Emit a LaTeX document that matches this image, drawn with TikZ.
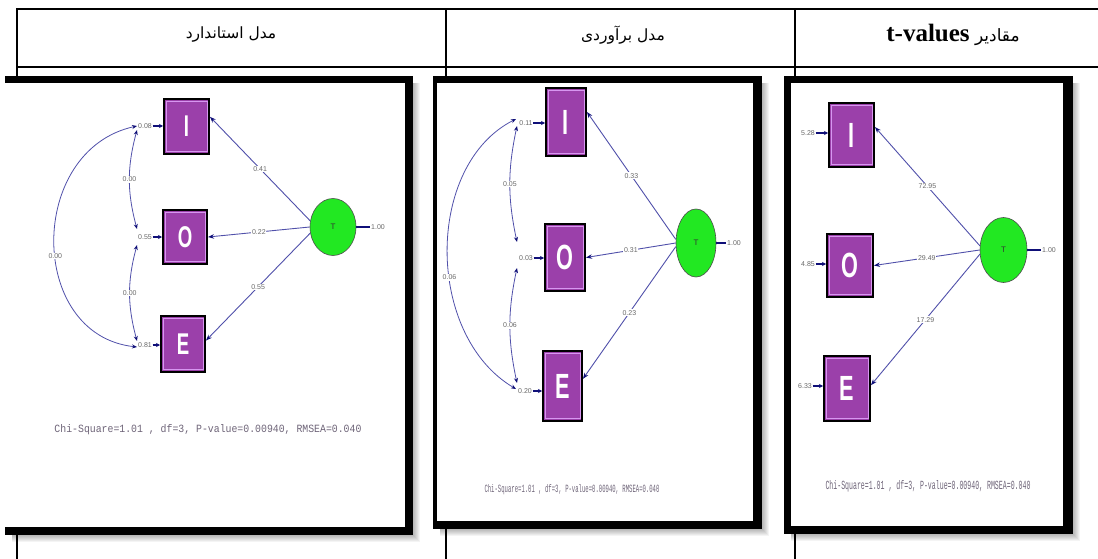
\documentclass[tikz,border=0pt]{standalone}
\usepackage{fontspec}
\setmainfont{Liberation Serif}
\newfontfamily\arabicfont[Script=Arabic]{DejaVu Sans}
\newfontfamily\lblfont{Liberation Sans}
\newfontfamily\chifont{Liberation Mono}
\TeXXeTstate=1
\usetikzlibrary{arrows.meta,shapes.geometric,calc}

\definecolor{boxpurple}{RGB}{155,64,170}
\definecolor{boxlav}{RGB}{215,150,240}
\definecolor{latgreen}{RGB}{34,232,34}
\definecolor{navy}{RGB}{15,15,120}
\definecolor{pathblue}{RGB}{80,80,170}
\definecolor{lblgray}{RGB}{105,105,105}
\definecolor{chigray}{RGB}{110,100,120}

\tikzset{
  tbl/.style={line width=1.4pt},
  obs/.style={rectangle, draw=black, line width=2pt, fill=boxpurple, text=white,
    inner sep=0pt, font=\lblfont\bfseries\fontsize{30}{30}\selectfont},
  obsbig/.style={obs, font=\lblfont\bfseries\fontsize{35}{35}\selectfont},
  lat/.style={ellipse, draw=black!70, line width=0.6pt, fill=latgreen, inner sep=0pt,
    font=\lblfont\fontsize{8}{8}\selectfont, text=black!80},
  load/.style={draw=pathblue, line width=0.9pt, -{Stealth[length=6pt,width=4.5pt,color=navy]}},
  lbl/.style={fill=white, inner sep=0.8pt, text=lblgray, font=\lblfont\fontsize{7}{7}\selectfont},
  errlbl/.style={inner sep=0.5pt, text=lblgray, font=\lblfont\fontsize{7}{7}\selectfont},
  err/.style={draw=navy, line width=1.5pt, -{Stealth[length=4pt,width=4pt]}},
  cov/.style={draw=pathblue, line width=0.8pt,
    {Stealth[length=5pt,width=4pt,color=navy]}-{Stealth[length=5pt,width=4pt,color=navy]}},
  varline/.style={draw=navy, line width=1.8pt},
  chi/.style={text=chigray, inner sep=0pt, font=\chifont},
  head/.style={inner sep=0pt, font=\arabicfont\fontsize{15.5}{16}\selectfont},
}

% narrow white letter inside an indicator box
\newcommand\ltr[1]{\scalebox{0.62}[1]{#1}}
% soft drop shadow to the right of and below a frame
\newcommand\pshadow[4]{%
  \foreach \k in {1,...,7}{\fill[black,opacity=0.045] (#1+7,#2+7) rectangle (#3+\k,#4+\k);}}
% thick black frame with a white interior
\newcommand\pframe[8]{%
  \fill[black] (#1,#2) rectangle (#3,#4);
  \fill[white] (#5,#6) rectangle (#7,#8);}
\newcommand\chiline{Chi-Square=1.01 , df=3, P-value=0.00940, RMSEA=0.040}

\begin{document}
\begin{tikzpicture}[x=1pt,y=-1pt]
\useasboundingbox (0,0) rectangle (1098,559);
\fill[white] (0,0) rectangle (1098,559);

% ---------- table ----------
\draw[tbl] (1098,9) -- (17,9) -- (17,559);
\draw[tbl] (17,67) -- (1098,67);
\draw[tbl] (446,9) -- (446,559);
\draw[tbl] (795,9) -- (795,559);

\node[head] (h1) at (231,35) {\beginR مدل استاندارد\endR};
\node[head] (h2) at (623,35) {\beginR مدل برآوردی\endR};
\node[head, font=\arabicfont\fontsize{17}{17}\selectfont] (h3) at (953,35)
  {\beginR مقادیر \beginL{\rmfamily\bfseries\fontsize{25}{25}\selectfont t-values}\endL\endR};

% ---------- frames ----------
\pshadow{5}{76}{413}{535}
\pshadow{433}{76}{762}{529}
\pshadow{784}{76}{1073}{534}
\pframe{5}{76}{413}{535}{5}{83}{405}{527}
\pframe{433}{76}{762}{529}{437}{83}{753}{521}
\pframe{784}{76}{1073}{534}{791}{83}{1063}{526}

% ---------- standardized model ----------
\node[obs, minimum width=45pt, minimum height=55pt] (I1) at (186.5,126.5) {\ltr{I}};
\node[obs, minimum width=44pt, minimum height=54pt] (O1) at (185,237) {\ltr{O}};
\node[obs, minimum width=44pt, minimum height=56pt] (E1) at (183,344) {\ltr{E}};
\node[lat, minimum width=46pt, minimum height=57pt] (T1) at (333,227) {T};

\draw[load] (T1.165) -- node[lbl]{0.41} ($(I1.north east)!0.33!(I1.south east)$);
\draw[load] (T1.180) -- node[lbl]{0.22} (O1.east);
\draw[load] (T1.195) -- node[lbl]{0.55} ($(E1.north east)!0.44!(E1.south east)$);

\node[errlbl] (t1v) at (378,227) {1.00};
\draw[varline] (T1.east) -- (t1v.west);

\node[errlbl] (e1I) at (145,126) {0.08};
\node[errlbl] (e1O) at (145,237) {0.55};
\node[errlbl] (e1E) at (145,345) {0.81};
\draw[err] (e1I.east) -- (e1I.east -| I1.west);
\draw[err] (e1O.east) -- (e1O.east -| O1.west);
\draw[err] (e1E.east) -- (e1E.east -| E1.west);

\coordinate (c1Ia) at (137,130);
\coordinate (c1Ib) at (137,126);
\coordinate (c1Oa) at (137,229);
\coordinate (c1Ob) at (137,245);
\coordinate (c1Ea) at (137,341);
\coordinate (c1Eb) at (137,347);
\draw[cov] (c1Ia) to[bend right=15] node[lbl]{0.00} (c1Oa);
\draw[cov] (c1Ob) to[bend right=15] node[lbl]{0.00} (c1Ea);
\draw[cov] (c1Ib) .. controls (27,150) and (27,335) .. node[lbl, pos=0.55]{0.00} (c1Eb);

\node[chi] (chi1) at (208,430) {\resizebox{307pt}{8pt}{\chiline}};

% ---------- estimated model ----------
\node[obsbig, minimum width=40pt, minimum height=68pt] (I2) at (566,122.5) {\ltr{I}};
\node[obsbig, minimum width=40pt, minimum height=67pt] (O2) at (565,257.5) {\ltr{O}};
\node[obsbig, minimum width=39pt, minimum height=70pt] (E2) at (562.5,386) {\ltr{E}};
\node[lat, minimum width=40pt, minimum height=68pt] (T2) at (696,243) {T};

\draw[load] (T2.170) -- node[lbl]{0.33} ($(I2.north east)!0.35!(I2.south east)$);
\draw[load] (T2.180) -- node[lbl]{0.31} (O2.east);
\draw[load] (T2.190) -- node[lbl]{0.23} ($(E2.north east)!0.4!(E2.south east)$);

\node[errlbl] (t2v) at (734,243) {1.00};
\draw[varline] (T2.east) -- (t2v.west);

\node[errlbl] (e2I) at (526,123) {0.11};
\node[errlbl] (e2O) at (526,258) {0.03};
\node[errlbl] (e2E) at (525,391) {0.20};
\draw[err] (e2I.east) -- (e2I.east -| I2.west);
\draw[err] (e2O.east) -- (e2O.east -| O2.west);
\draw[err] (e2E.east) -- (e2E.east -| E2.west);

\coordinate (c2Ia) at (517,126);
\coordinate (c2Ib) at (516,119);
\coordinate (c2Oa) at (517,242);
\coordinate (c2Ob) at (517,268);
\coordinate (c2Ea) at (517,383);
\coordinate (c2Eb) at (516,389);
\draw[cov] (c2Ia) to[bend right=12] node[lbl]{0.05} (c2Oa);
\draw[cov] (c2Ob) to[bend right=12] node[lbl]{0.06} (c2Ea);
\draw[cov] (c2Ib) .. controls (425,165) and (425,335) .. node[lbl, pos=0.58]{0.06} (c2Eb);

\node[chi] (chi2) at (572,490) {\resizebox{175pt}{8pt}{\chiline}};

% ---------- t-values ----------
\node[obsbig, minimum width=45pt, minimum height=64pt] (I3) at (851.5,135) {\ltr{I}};
\node[obsbig, minimum width=46pt, minimum height=63pt] (O3) at (850,265.5) {\ltr{O}};
\node[obsbig, minimum width=46pt, minimum height=65pt] (E3) at (847,388.5) {\ltr{E}};
\node[lat, minimum width=47pt, minimum height=65pt] (T3) at (1003.5,250) {T};

\draw[load] (T3.170) -- node[lbl]{72.95} ($(I3.north east)!0.38!(I3.south east)$);
\draw[load] (T3.180) -- node[lbl]{29.49} (O3.east);
\draw[load] (T3.190) -- node[lbl]{17.29} ($(E3.north east)!0.45!(E3.south east)$);

\node[errlbl] (t3v) at (1049,250) {1.00};
\draw[varline] (T3.east) -- (t3v.west);

\node[errlbl] (e3I) at (808,133) {5.28};
\node[errlbl] (e3O) at (808,264) {4.85};
\node[errlbl] (e3E) at (805,386) {6.33};
\draw[err] (e3I.east) -- (e3I.east -| I3.west);
\draw[err] (e3O.east) -- (e3O.east -| O3.west);
\draw[err] (e3E.east) -- (e3E.east -| E3.west);

\node[chi] (chi3) at (928,486) {\resizebox{205pt}{9pt}{\chiline}};

% inner light rim of the indicator boxes
\foreach \n in {I1,O1,E1,I2,O2,E2,I3,O3,E3}
  \draw[boxlav, line width=1pt] ([xshift=3pt,yshift=-3.5pt]\n.north west) rectangle ([xshift=-3pt,yshift=3.5pt]\n.south east);
\end{tikzpicture}
\end{document}
